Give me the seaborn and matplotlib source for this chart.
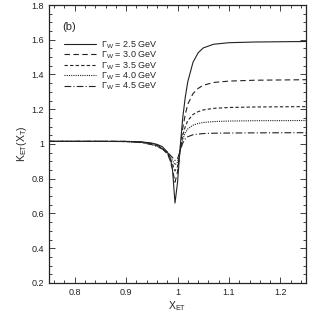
"""
K_ET(X_T) vs X_ET for several W widths, panel (b).
"""

import matplotlib.pyplot as plt
import matplotlib.ticker as mticker
import pandas as pd
import seaborn as sns

# x grid shared by all curves
X_ET = [0.75, 0.85, 0.90, 0.93, 0.95, 0.96, 0.97, 0.98, 0.985, 0.99, 0.995,
        1.0, 1.005, 1.01, 1.015, 1.02, 1.03, 1.04, 1.05, 1.07, 1.10, 1.15, 1.25]

K_25 = [1.015, 1.015, 1.015, 1.012, 1.005, 0.998, 0.985, 0.955, 0.925, 0.86, 0.66,
        0.78, 0.98, 1.15, 1.27, 1.36, 1.47, 1.525, 1.553, 1.574, 1.583, 1.587, 1.59]
K_30 = [1.015, 1.015, 1.015, 1.011, 1.003, 0.994, 0.978, 0.945, 0.91, 0.855, 0.78,
        0.84, 0.97, 1.09, 1.17, 1.23, 1.29, 1.32, 1.338, 1.354, 1.362, 1.367, 1.37]
K_35 = [1.015, 1.015, 1.014, 1.01, 1.0, 0.99, 0.973, 0.945, 0.92, 0.885, 0.845,
        0.87, 0.96, 1.05, 1.10, 1.135, 1.17, 1.186, 1.196, 1.205, 1.21, 1.213, 1.215]
K_40 = [1.015, 1.015, 1.014, 1.009, 0.998, 0.988, 0.972, 0.948, 0.93, 0.905, 0.88,
        0.895, 0.96, 1.025, 1.065, 1.087, 1.108, 1.118, 1.124, 1.129, 1.132, 1.134, 1.135]
K_45 = [1.015, 1.015, 1.014, 1.008, 0.996, 0.986, 0.972, 0.952, 0.938, 0.922, 0.905,
        0.915, 0.96, 1.005, 1.03, 1.042, 1.053, 1.057, 1.06, 1.062, 1.063, 1.064, 1.065]

WIDTHS = ["2.5", "3.0", "3.5", "4.0", "4.5"]
SERIES = [K_25, K_30, K_35, K_40, K_45]
DASHES = ["-", (0, (5, 3)), (0, (3, 2)), (0, (1, 1)), (0, (6, 2, 1, 2))]


def main():
    sns.set_style("ticks")
    plt.rcParams["font.family"] = ["Liberation Sans", "DejaVu Sans"]
    plt.rcParams["mathtext.fontset"] = "custom"
    plt.rcParams["mathtext.rm"] = "Liberation Sans"
    plt.rcParams["mathtext.it"] = "Liberation Sans"

    fig = plt.figure(figsize=(3.14, 3.13), dpi=100)
    ax = fig.add_axes([0.156, 0.096, 0.819, 0.888])

    for w, k, ls in zip(WIDTHS, SERIES, DASHES):
        df = pd.DataFrame({"x": X_ET, "k": k})
        sns.lineplot(data=df, x="x", y="k", ax=ax, color="#222222", lw=0.8,
                     linestyle=ls, label=r"$\Gamma_{\rm W}$ = " + f"{w} GeV")

    ax.set_xlim(0.75, 1.25)
    ax.set_ylim(0.2, 1.8)
    ax.xaxis.set_major_locator(mticker.MultipleLocator(0.1))
    ax.xaxis.set_minor_locator(mticker.MultipleLocator(0.02))
    ax.yaxis.set_major_locator(mticker.MultipleLocator(0.2))
    ax.yaxis.set_minor_locator(mticker.MultipleLocator(0.05))
    ax.yaxis.set_major_formatter(mticker.FormatStrFormatter("%g"))
    ax.xaxis.set_major_formatter(mticker.FormatStrFormatter("%g"))
    ax.tick_params(which="both", direction="in", top=True, right=True,
                   labelsize=6.5, width=0.6, colors="#222222")
    ax.tick_params(which="major", length=4)
    ax.tick_params(which="minor", length=2)
    for s in ax.spines.values():
        s.set_linewidth(0.9)

    ax.set_xlabel(r"X$_{\rm ET}$", fontsize=7.5, labelpad=2)
    ax.set_ylabel(r"K$_{\rm ET}$(X$_{\rm T}$)", fontsize=7.5, labelpad=2)
    ax.text(0.775, 1.655, "(b)", fontsize=8)

    ax.legend(loc="upper left", bbox_to_anchor=(0.045, 0.89), frameon=False,
              fontsize=6.5, handlelength=3.5, handletextpad=0.55,
              labelspacing=-0.12, borderaxespad=0)

    fig.savefig("out.png", dpi=100)
    plt.close(fig)


if __name__ == "__main__":
    main()
